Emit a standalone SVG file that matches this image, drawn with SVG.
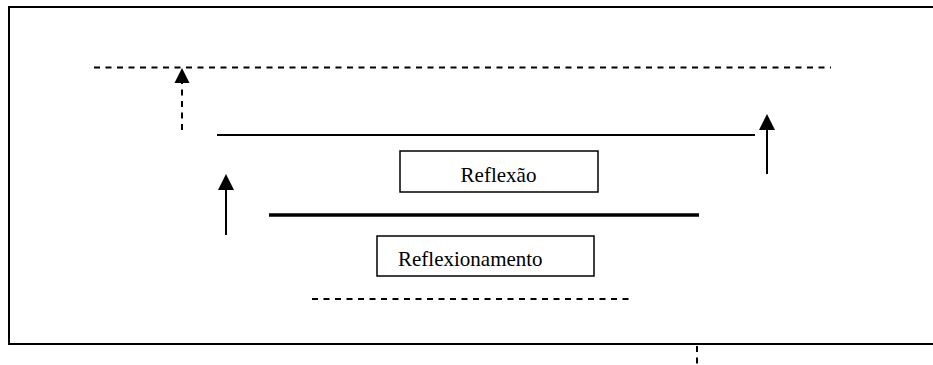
<svg xmlns="http://www.w3.org/2000/svg" width="933" height="365" viewBox="0 0 933 365">
  <style>
    .frame { fill: none; stroke: #000; stroke-width: 2; }
    .dash { fill: none; stroke: #000; stroke-width: 2; stroke-dasharray: 6 5.5; }
    .solid { fill: none; stroke: #000; stroke-width: 2; }
    .thick { fill: none; stroke: #000; stroke-width: 3.5; }
    .box { fill: #fff; stroke: #000; stroke-width: 1.5; }
    .label { font-family: "Liberation Serif", "Times New Roman", serif; font-size: 21px; fill: #000; }
  </style>
  <rect width="933" height="365" fill="#fff"/>

  <!-- outer frame: open on the right -->
  <path class="frame" d="M940,7 H9 V344 H940"/>

  <g id="levels">
    <line class="dash" x1="94" y1="67.5" x2="831" y2="67.5"/>
    <line class="solid" x1="217" y1="135" x2="755" y2="135"/>
    <line class="thick" x1="269" y1="215" x2="699" y2="215"/>
    <line class="dash" x1="312" y1="299" x2="630" y2="299"/>
  </g>

  <g id="connectors">
    <line class="dash" x1="182" y1="130" x2="182" y2="83" stroke-dasharray="6 5"/>
    <path d="M174.5,83 L182,68 L189.5,83 Z" fill="#000"/>
    <line class="solid" x1="767" y1="174" x2="767" y2="128"/>
    <path d="M759,130 L767,114 L775,130 Z" fill="#000"/>
    <line class="solid" x1="226" y1="235" x2="226" y2="188"/>
    <path d="M218,190 L226,174 L234,190 Z" fill="#000"/>
    <line class="dash" x1="697" y1="346" x2="697" y2="365" stroke-dasharray="6 5"/>
  </g>

  <g id="reflexao">
    <rect class="box" x="400" y="151" width="198" height="41"/>
    <text class="label" x="498.5" y="182" text-anchor="middle">Reflexão</text>
  </g>

  <g id="reflexionamento">
    <rect class="box" x="377" y="236" width="217" height="40"/>
    <text class="label" x="398" y="266">Reflexionamento</text>
  </g>
</svg>
